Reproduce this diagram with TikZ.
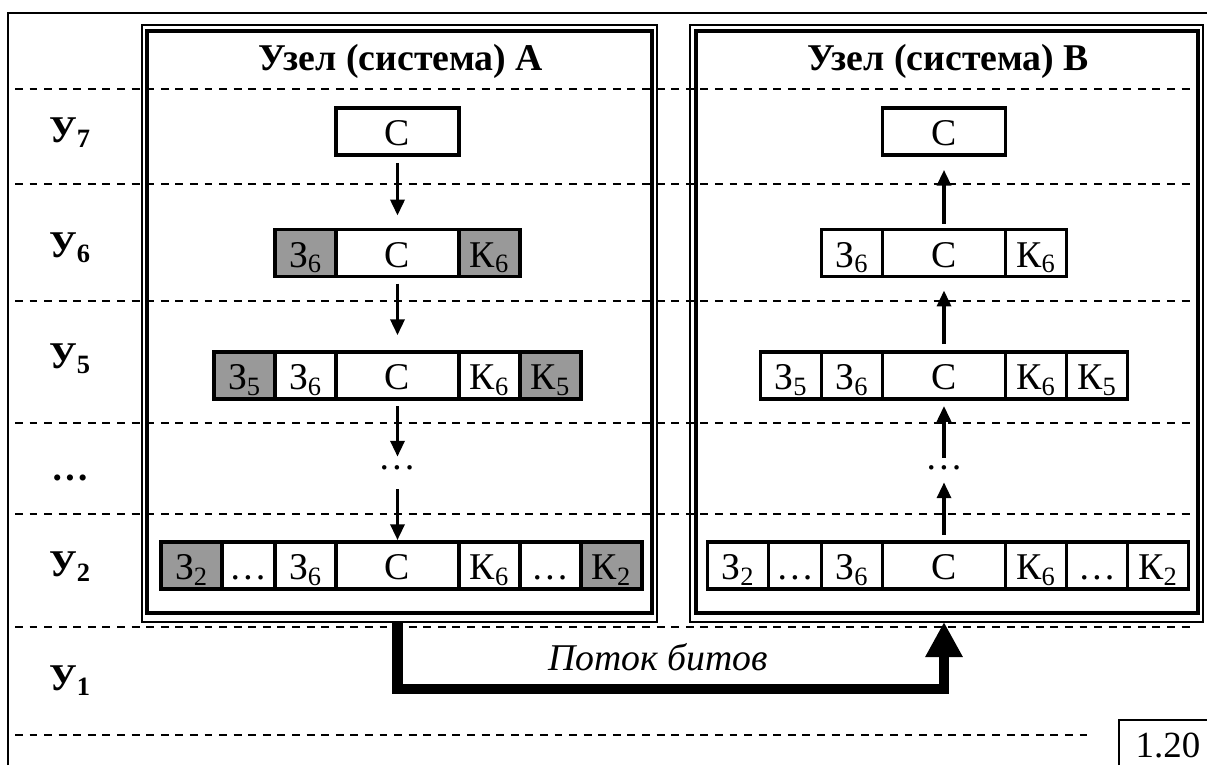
\documentclass[tikz,border=0pt]{standalone}
\usepackage{fontspec}
\setmainfont{Liberation Serif}
\usetikzlibrary{positioning,arrows.meta}
\definecolor{hdrgray}{gray}{0.6}
\tikzset{
  pcell/.style={draw,line width=1.9pt,inner sep=0pt,outer sep=0pt,minimum height=0.94cm,minimum width=1.22cm,text height=16pt,text depth=0pt,font=\fontsize{21.5}{25}\selectfont},
  payload/.style={pcell,minimum width=2.46cm},
  hdr/.style={pcell,fill=hdrgray},
  lvl/.style={anchor=base,font=\fontsize{21.5}{25}\selectfont\bfseries},
  gridline/.style={dash pattern=on 4.5pt off 3.8pt,line width=1.2pt},
  sysframe/.style={draw,line width=1.2pt,inner sep=0pt,outer sep=0pt},
  sysinner/.style={line width=1.8pt},
  dnarrow/.style={-{Triangle[length=9pt,width=8pt]},line width=1.8pt},
  dotsnode/.style={inner sep=0pt,minimum height=0.4cm,font=\fontsize{21.5}{25}\selectfont},
}
\begin{document}
\begin{tikzpicture}[x=0.02cm,y=-0.02cm]
\useasboundingbox (0,0) rectangle (1207,765);
% Outer frame
\draw[line width=1.4pt] (8,765) |- (1207,13);
% Layer borders
\foreach \yy in {89,184,301,423,514,627}
  \draw[gridline] (15,\yy) -- (1195,\yy);
\draw[gridline] (15,735) -- (1092,735);
% Layer names
\node[lvl] (l7) at (70,142) {У\textsubscript{7}};
\node[lvl] (l6) at (70,257) {У\textsubscript{6}};
\node[lvl] (l5) at (70,368) {У\textsubscript{5}};
\node[lvl] (ld) at (70,480) {…};
\node[lvl] (l2) at (70,576) {У\textsubscript{2}};
\node[lvl] (l1) at (70,690) {У\textsubscript{1}};
% System frames
\node[sysframe,minimum width=10.3cm,minimum height=11.94cm] (sysA) at (399.5,323.5) {};
\draw[sysinner] ([shift={(5,6)}]sysA.north west) rectangle ([shift={(-5,-9)}]sysA.south east);
\node[sysframe,minimum width=10.26cm,minimum height=11.94cm] (sysB) at (946.5,323.5) {};
\draw[sysinner] ([shift={(6,6)}]sysB.north west) rectangle ([shift={(-5,-9)}]sysB.south east);
\node[lvl] (tA) at (401,70) {Узел (система) А};
\node[lvl] (tB) at (948,70) {Узел (система) В};
% System A: adding headers and trailers
\node[payload] (c7a) at (397.5,131.5) {С};
\node[payload] (c6a) at (397.5,253) {С};
\node[hdr,left=0pt of c6a] (z6a) {З\textsubscript{6}};
\node[hdr,right=0pt of c6a] (k6a) {К\textsubscript{6}};
\node[payload] (c5a) at (397.5,375.5) {С};
\node[pcell,left=0pt of c5a] (z6a5) {З\textsubscript{6}};
\node[hdr,left=0pt of z6a5] (z5a) {З\textsubscript{5}};
\node[pcell,right=0pt of c5a] (k6a5) {К\textsubscript{6}};
\node[hdr,right=0pt of k6a5] (k5a) {К\textsubscript{5}};
\node[dotsnode] (dA) at (397.5,468) {…};
\node[payload] (c2a) at (397.5,565.5) {С};
\node[pcell,left=0pt of c2a] (z6a2) {З\textsubscript{6}};
\node[pcell,minimum width=1.06cm,left=0pt of z6a2] (zda) {…};
\node[hdr,left=0pt of zda] (z2a) {З\textsubscript{2}};
\node[pcell,right=0pt of c2a] (k6a2) {К\textsubscript{6}};
\node[pcell,right=0pt of k6a2] (kda) {…};
\node[hdr,right=0pt of kda] (k2a) {К\textsubscript{2}};
\draw[dnarrow,shorten <=4.5pt,shorten >=8pt] (c7a) -- (c6a);
\draw[dnarrow,shorten <=4pt,shorten >=9.6pt] (c6a) -- (c5a);
\draw[dnarrow,shorten <=4pt,shorten >=0.6pt] (c5a) -- (dA);
\draw[dnarrow,shorten <=6.2pt,shorten >=1.1pt] (dA) -- (c2a);
% System B: removing headers and trailers
\node[payload] (c7b) at (944,131.5) {С};
\node[payload] (c6b) at (944,253) {С};
\node[pcell,left=0pt of c6b] (z6b) {З\textsubscript{6}};
\node[pcell,right=0pt of c6b] (k6b) {К\textsubscript{6}};
\node[payload] (c5b) at (944,375.5) {С};
\node[pcell,left=0pt of c5b] (z6b5) {З\textsubscript{6}};
\node[pcell,left=0pt of z6b5] (z5b) {З\textsubscript{5}};
\node[pcell,right=0pt of c5b] (k6b5) {К\textsubscript{6}};
\node[pcell,right=0pt of k6b5] (k5b) {К\textsubscript{5}};
\node[dotsnode] (dB) at (944,468) {…};
\node[payload] (c2b) at (944,565.5) {С};
\node[pcell,left=0pt of c2b] (z6b2) {З\textsubscript{6}};
\node[pcell,minimum width=1.06cm,left=0pt of z6b2] (zdb) {…};
\node[pcell,left=0pt of zdb] (z2b) {З\textsubscript{2}};
\node[pcell,right=0pt of c2b] (k6b2) {К\textsubscript{6}};
\node[pcell,right=0pt of k6b2] (kdb) {…};
\node[pcell,right=0pt of kdb] (k2b) {К\textsubscript{2}};
\draw[dnarrow,shorten <=3.4pt,shorten >=8.5pt] (c6b) -- (c7b);
\draw[dnarrow,shorten <=4.5pt,shorten >=8pt] (c5b) -- (c6b);
\draw[dnarrow,shorten <=0pt,shorten >=4pt] (dB) -- (c5b);
\draw[dnarrow,shorten <=4pt,shorten >=2.3pt] (c2b) -- (dB);
% Bit stream
\coordinate (low) at (0,689);
\draw[line width=6.2pt,-{Triangle[length=20pt,width=20pt]}] (c2a |- sysA.south) -- (c2a |- low) -| (c2b |- sysB.south);
\node[anchor=base,font=\fontsize{21.5}{25}\selectfont\itshape] (flow) at (658,670) {Поток битов};
% Figure number
\coordinate (fig) at (1119,720);
\draw[line width=1.1pt] (fig |- 0,765) -- (fig) -- (1207,720);
\node[anchor=base,font=\fontsize{21}{25}\selectfont] (fignum) at (1168,757) {1.20};
\end{tikzpicture}
\end{document}
